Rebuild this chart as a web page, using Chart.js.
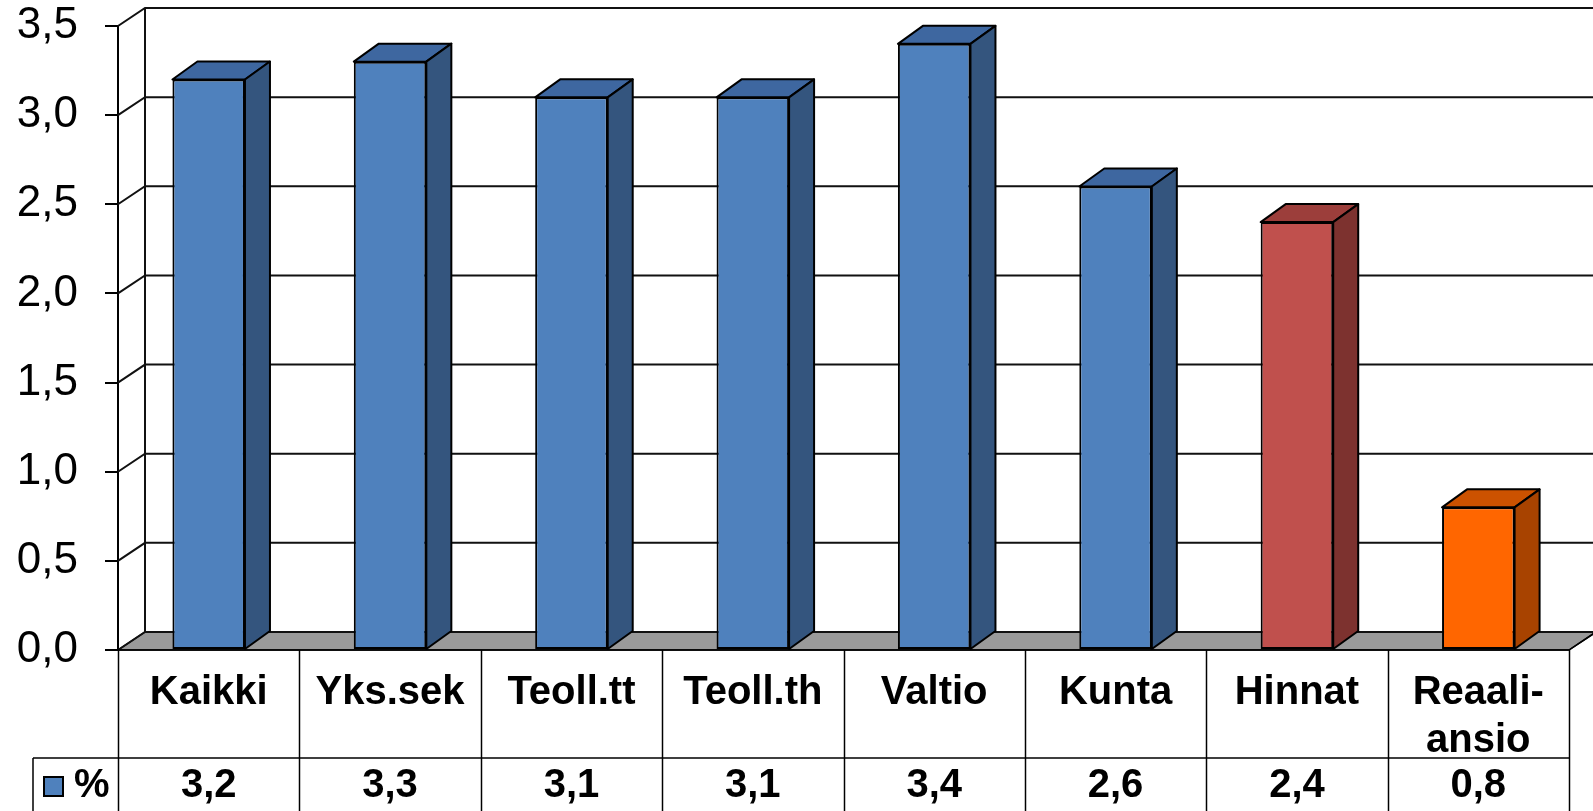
<!DOCTYPE html>
<html>
<head>
<meta charset="utf-8">
<script src="https://cdn.jsdelivr.net/npm/chart.js@4.4.0/dist/chart.umd.min.js"></script>
<style>
    html, body { margin: 0; padding: 0; background: #ffffff; }
</style>
</head>
<body>
<canvas id="myChart" width="1593" height="811"></canvas>
<script>
// Datos del gráfico
var categorias = ["Kaikki", "Yks.sek", "Teoll.tt", "Teoll.th", "Valtio", "Kunta", "Hinnat", ["Reaali-", "ansio"]];
var valores = [3.2, 3.3, 3.1, 3.1, 3.4, 2.6, 2.4, 0.8];
var nombreSerie = "%";
var ejeMin = 0, ejeMax = 3.5, ejePaso = 0.5;

// Colores (frente, lado, tapa) por barra
var azul = ["#4f81bd", "#34557e", "#3e67a0"];
var rojo = ["#c0504d", "#7d322f", "#9c3e3b"];
var naranja = ["#ff6600", "#a84300", "#cc5200"];
var coloresBarras = [azul, azul, azul, azul, azul, azul, rojo, naranja];

// Profundidad del efecto 3D
var profX = 27, profY = -18;
var altoFilaTabla = 108;

function formatoComa(v) {
    return Number(v).toFixed(1).replace(".", ",");
}

Chart.defaults.font.family = "'Liberation Sans', Arial, sans-serif";
Chart.defaults.color = "#000000";

var efecto3D = {
    id: "efecto3D",
    beforeDatasetsDraw: function (chart) {
        var c = chart.ctx, a = chart.chartArea, y = chart.scales.y;
        var yb = y.getPixelForValue(0);
        c.save();
        // Suelo gris
        c.fillStyle = "#9a9a9a";
        c.beginPath();
        c.moveTo(a.left, yb);
        c.lineTo(a.right, yb);
        c.lineTo(a.right + profX, yb + profY);
        c.lineTo(a.left + profX, yb + profY);
        c.closePath();
        c.fill();
        c.strokeStyle = "#000000";
        c.lineWidth = 1.5;
        c.stroke();
        // Líneas de cuadrícula en la pared
        c.lineWidth = 2;
        c.strokeStyle = "#111111";
        y.ticks.forEach(function (t) {
            var py = y.getPixelForValue(t.value);
            c.beginPath();
            c.moveTo(a.left, py);
            c.lineTo(a.left + profX, py + profY);
            c.lineTo(chart.width + 10, py + profY);
            c.stroke();
        });
        // Arista trasera de la pared izquierda
        c.beginPath();
        c.moveTo(a.left + profX, y.getPixelForValue(ejeMax) + profY);
        c.lineTo(a.left + profX, yb + profY);
        c.stroke();
        c.restore();
    },
    afterDatasetsDraw: function (chart) {
        var c = chart.ctx;
        var meta = chart.getDatasetMeta(0);
        c.save();
        c.strokeStyle = "#000000";
        c.lineWidth = 2;
        c.lineJoin = "round";
        meta.data.forEach(function (bar, i) {
            var p = bar.getProps(["x", "y", "base", "width"], true);
            var l = p.x - p.width / 2, r = p.x + p.width / 2;
            var dx = profX - 2, dy = profY;
            var col = coloresBarras[i];
            // Tapa
            c.fillStyle = col[2];
            c.beginPath();
            c.moveTo(l, p.y);
            c.lineTo(r, p.y);
            c.lineTo(r + dx, p.y + dy);
            c.lineTo(l + dx, p.y + dy);
            c.closePath();
            c.fill();
            c.stroke();
            // Lado
            c.fillStyle = col[1];
            c.beginPath();
            c.moveTo(r, p.y);
            c.lineTo(r + dx, p.y + dy);
            c.lineTo(r + dx, p.base + dy);
            c.lineTo(r, p.base);
            c.closePath();
            c.fill();
            c.stroke();
        });
        c.restore();
    },
    afterDraw: function (chart) {
        // Tabla de datos debajo del gráfico
        var c = chart.ctx, a = chart.chartArea, x = chart.scales.x, y = chart.scales.y;
        var yb = y.getPixelForValue(0);
        var yFila = yb + altoFilaTabla;
        var paso = x.getPixelForValue(1) - x.getPixelForValue(0);
        var izqLeyenda = 33;
        c.save();
        c.strokeStyle = "#000000";
        c.lineWidth = 1.5;
        for (var i = 0; i <= valores.length; i++) {
            var px = Math.round(x.getPixelForValue(i) - paso / 2) + 0.5;
            c.beginPath();
            c.moveTo(px, yb);
            c.lineTo(px, chart.height);
            c.stroke();
        }
        c.beginPath();
        c.moveTo(izqLeyenda, yFila);
        c.lineTo(a.right, yFila);
        c.moveTo(izqLeyenda, yFila);
        c.lineTo(izqLeyenda, chart.height);
        c.moveTo(a.left, yb);
        c.lineTo(a.right, yb);
        c.stroke();
        // Diagonal del suelo a la derecha
        c.beginPath();
        c.moveTo(a.right, yb);
        c.lineTo(a.right + profX, yb + profY);
        c.stroke();

        // Valores
        c.fillStyle = "#000000";
        c.font = "bold 40px 'Liberation Sans', Arial, sans-serif";
        c.textAlign = "center";
        c.textBaseline = "middle";
        var yTexto = yFila + 28;
        valores.forEach(function (v, i) {
            c.fillText(formatoComa(v), x.getPixelForValue(i), yTexto);
        });
        // Clave de la leyenda
        c.fillStyle = azul[0];
        c.fillRect(44, yFila + 19, 19, 19);
        c.lineWidth = 2;
        c.strokeRect(44, yFila + 19, 19, 19);
        c.fillStyle = "#000000";
        c.textAlign = "left";
        c.fillText(nombreSerie, 74, yTexto);
        c.restore();
    }
};

var ctx = document.getElementById("myChart").getContext("2d");
var myChart = new Chart(ctx, {
    type: "bar",
    data: {
        labels: categorias,
        datasets: [{
            label: nombreSerie,
            data: valores,
            backgroundColor: coloresBarras.map(function (c) { return c[0]; }),
            borderColor: "#000000",
            borderWidth: 2,
            borderSkipped: false,
            barPercentage: 0.4,
            categoryPercentage: 1.0
        }]
    },
    options: {
        responsive: false,
        animation: false,
        layout: {
            padding: { top: 0, right: 24, bottom: 53, left: 0 }
        },
        plugins: {
            legend: { display: false },
            tooltip: { enabled: false }
        },
        scales: {
            x: {
                grid: { display: false },
                border: { display: false },
                ticks: {
                    font: { size: 40, weight: "bold" },
                    color: "#000000",
                    padding: 11,
                    maxRotation: 0,
                    autoSkip: false
                },
                afterFit: function (s) { s.height = altoFilaTabla; }
            },
            y: {
                min: ejeMin,
                max: ejeMax,
                ticks: {
                    stepSize: ejePaso,
                    font: { size: 44 },
                    color: "#000000",
                    padding: 27,
                    callback: function (v) { return formatoComa(v); }
                },
                grid: {
                    drawOnChartArea: false,
                    drawTicks: true,
                    tickLength: 13,
                    color: "#000000",
                    lineWidth: 2
                },
                border: { display: true, color: "#000000", width: 2 },
                afterFit: function (s) {
                    s.width = 118;
                    s.paddingTop = 26;
                    s.paddingBottom = 0;
                }
            }
        }
    },
    plugins: [efecto3D]
});
</script>
</body>
</html>
